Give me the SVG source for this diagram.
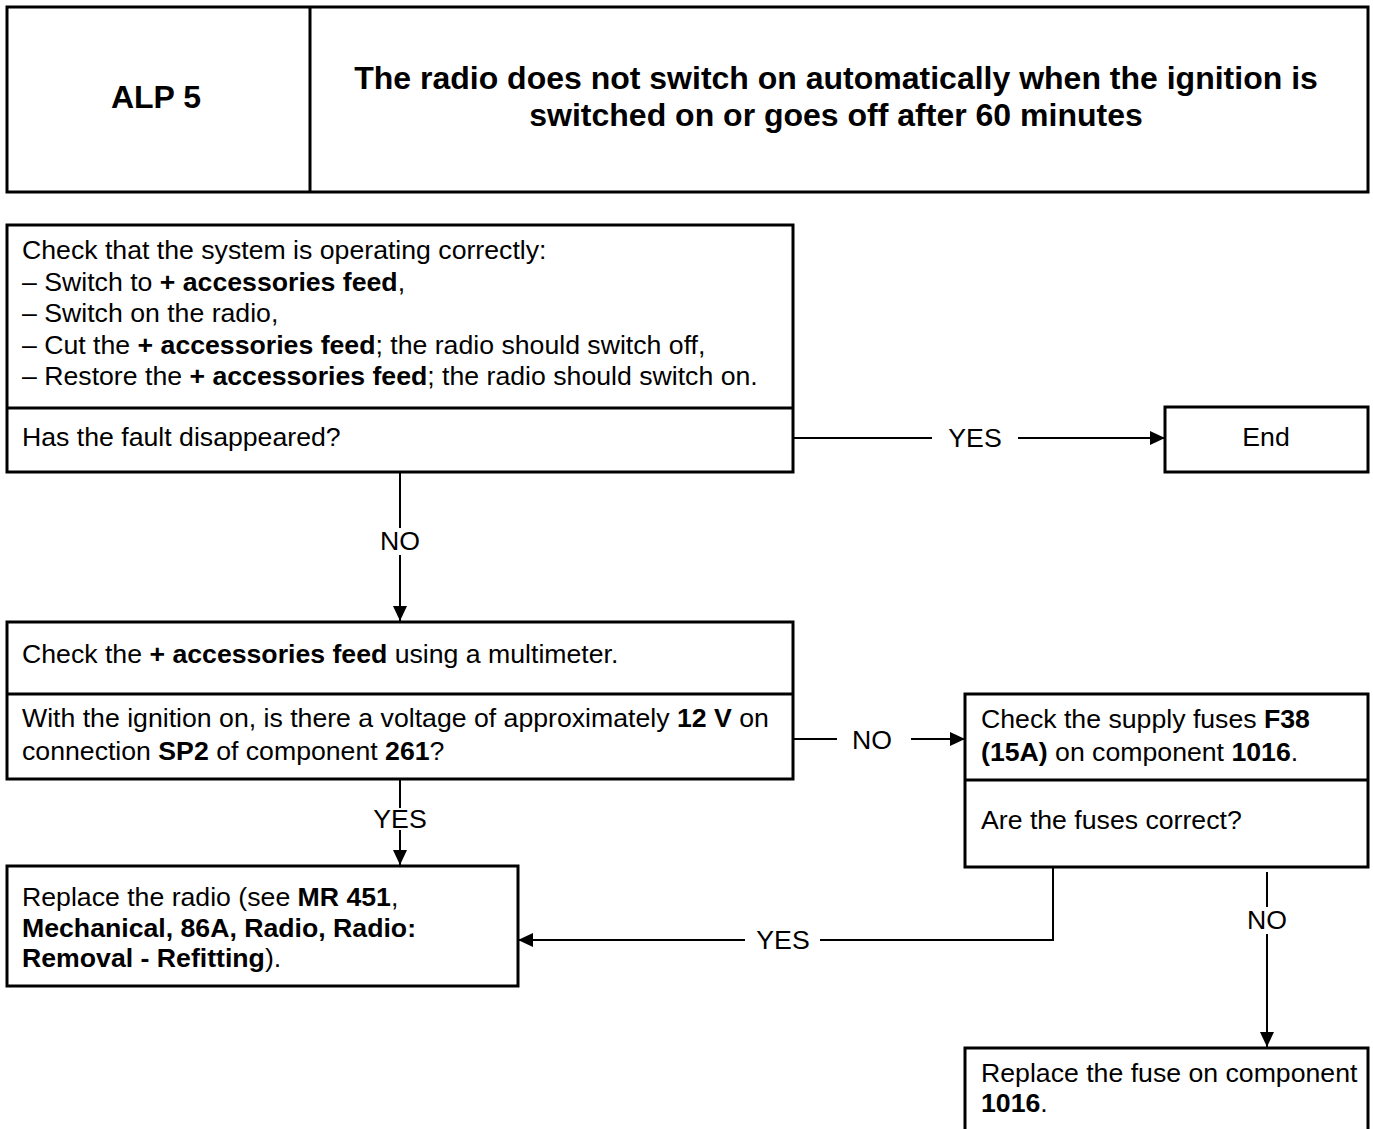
<svg xmlns="http://www.w3.org/2000/svg" width="1373" height="1129" viewBox="0 0 1373 1129">
<style>
.box{fill:#fff;stroke:#000;stroke-width:3}
.div{stroke:#000;stroke-width:3}
.t{font-family:"Liberation Sans",Arial,sans-serif;font-size:26.67px;fill:#000}
.h{font-family:"Liberation Sans",Arial,sans-serif;font-size:32px;font-weight:bold;fill:#000}
.b{font-weight:bold}
.c{stroke:#000;stroke-width:2;fill:none}
</style>
<defs>
<marker id="ah" markerWidth="15" markerHeight="14" refX="15" refY="7" orient="auto" markerUnits="userSpaceOnUse">
<path d="M0,0 L15,7 L0,14 Z" fill="#000"/>
</marker>
</defs>
<rect width="1373" height="1129" fill="#fff"/>
<g id="header">
<rect class="box" x="7" y="7" width="1361" height="185"/>
<line class="div" x1="310" y1="7" x2="310" y2="192"/>
<text class="h" x="156" y="108" text-anchor="middle">ALP 5</text>
<text class="h" x="836" y="89" text-anchor="middle">The radio does not switch on automatically when the ignition is</text>
<text class="h" x="836" y="126" text-anchor="middle">switched on or goes off after 60 minutes</text>
</g>
<g id="node-check-system">
<rect class="box" x="7" y="225" width="786" height="247"/>
<line class="div" x1="7" y1="408" x2="793" y2="408"/>
<text class="t" x="22" y="259">Check that the system is operating correctly:</text>
<text class="t" x="22" y="291">–  Switch to <tspan class="b">+ accessories feed</tspan>,</text>
<text class="t" x="22" y="322">–  Switch on the radio,</text>
<text class="t" x="22" y="354">–  Cut the <tspan class="b">+ accessories feed</tspan>; the radio should switch off,</text>
<text class="t" x="22" y="385">–  Restore the <tspan class="b">+ accessories feed</tspan>; the radio should switch on.</text>
<text class="t" x="22" y="446">Has the fault disappeared?</text>
</g>
<g id="node-end">
<rect class="box" x="1165" y="407" width="203" height="65"/>
<text class="t" x="1266" y="446" text-anchor="middle">End</text>
</g>
<g id="node-check-feed">
<rect class="box" x="7" y="622" width="786" height="157"/>
<line class="div" x1="7" y1="694" x2="793" y2="694"/>
<text class="t" x="22" y="663">Check the <tspan class="b">+ accessories feed</tspan> using a multimeter.</text>
<text class="t" x="22" y="727">With the ignition on, is there a voltage of approximately <tspan class="b">12 V</tspan> on</text>
<text class="t" x="22" y="760">connection <tspan class="b">SP2</tspan> of component <tspan class="b">261</tspan>?</text>
</g>
<g id="node-check-fuses">
<rect class="box" x="965" y="694" width="403" height="173"/>
<line class="div" x1="965" y1="780" x2="1368" y2="780"/>
<text class="t" x="981" y="728">Check the supply fuses <tspan class="b">F38</tspan></text>
<text class="t" x="981" y="761"><tspan class="b">(15A)</tspan> on component <tspan class="b">1016</tspan>.</text>
<text class="t" x="981" y="829">Are the fuses correct?</text>
</g>
<g id="node-replace-radio">
<rect class="box" x="7" y="866" width="511" height="120"/>
<text class="t" x="22" y="906">Replace the radio (see <tspan class="b">MR 451</tspan>,</text>
<text class="t b" x="22" y="937">Mechanical, 86A, Radio, Radio:</text>
<text class="t" x="22" y="967"><tspan class="b">Removal - Refitting</tspan>).</text>
</g>
<g id="node-replace-fuse">
<path class="box" d="M965,1131 L965,1048 L1368,1048 L1368,1131"/>
<text class="t" x="981" y="1082">Replace the fuse on component</text>
<text class="t b" x="981" y="1112">1016<tspan font-weight="normal">.</tspan></text>
</g>
<g id="connectors">
<line class="c" x1="793" y1="438" x2="932" y2="438"/>
<line class="c" x1="1018" y1="438" x2="1165" y2="438" marker-end="url(#ah)"/>
<text class="t" x="975" y="447" text-anchor="middle">YES</text>
<line class="c" x1="400" y1="472" x2="400" y2="528"/>
<line class="c" x1="400" y1="555" x2="400" y2="621" marker-end="url(#ah)"/>
<text class="t" x="400" y="550" text-anchor="middle">NO</text>
<line class="c" x1="793" y1="739" x2="837" y2="739"/>
<line class="c" x1="911" y1="739" x2="965" y2="739" marker-end="url(#ah)"/>
<text class="t" x="872" y="749" text-anchor="middle">NO</text>
<line class="c" x1="400" y1="779" x2="400" y2="808"/>
<line class="c" x1="400" y1="830" x2="400" y2="865" marker-end="url(#ah)"/>
<text class="t" x="400" y="828" text-anchor="middle">YES</text>
<polyline class="c" points="1053,867 1053,940 820,940"/>
<line class="c" x1="745" y1="940" x2="518" y2="940" marker-end="url(#ah)"/>
<text class="t" x="783" y="949" text-anchor="middle">YES</text>
<line class="c" x1="1267" y1="872" x2="1267" y2="907"/>
<line class="c" x1="1267" y1="934" x2="1267" y2="1047" marker-end="url(#ah)"/>
<text class="t" x="1267" y="929" text-anchor="middle">NO</text>
</g>
</svg>
